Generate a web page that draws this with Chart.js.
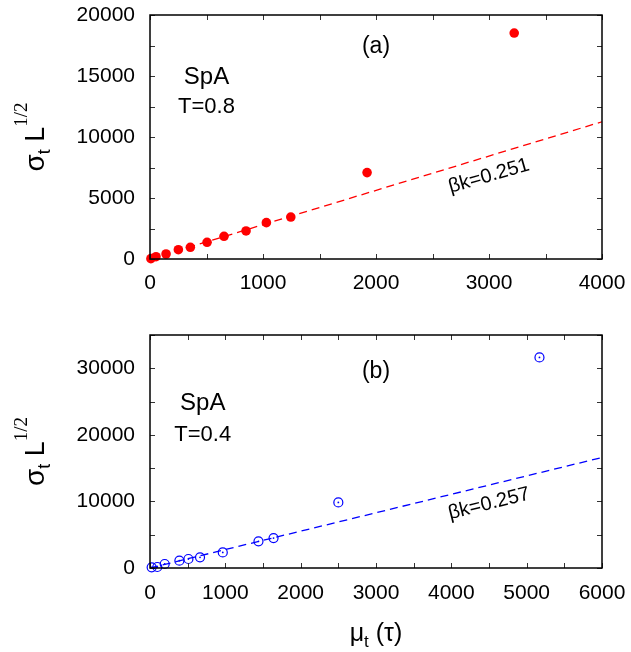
<!DOCTYPE html>
<html>
<head>
<meta charset="utf-8">
<script src="https://cdn.jsdelivr.net/npm/chart.js@4"></script>
<style>
html, body { margin: 0; padding: 0; background: #fff; }
#wrap { position: relative; width: 631px; height: 652px; }
canvas { position: absolute; left: 0; }
</style>
</head>
<body>
<div id="wrap">
<canvas id="topChart" width="631" height="310" style="top:0;width:631px;height:310px"></canvas>
<canvas id="botChart" width="631" height="342" style="top:310px;width:631px;height:342px"></canvas>
</div>
<script>
// panel (a): SpA, T=0.8
const muA = [8, 53, 142, 251, 357, 505, 655, 850, 1030, 1246, 1921, 3223];
const sigA = [30, 190, 410, 760, 960, 1370, 1860, 2300, 2980, 3440, 7080, 18520];
const fitMuA = [0, 4000];
const fitSigA = [0, 11250];

// panel (b): SpA, T=0.4
const muB = [22, 97, 195, 390, 510, 664, 966, 1440, 1640, 2500, 5170];
const sigB = [100, 150, 600, 1100, 1350, 1600, 2340, 4000, 4500, 9850, 31630];
const fitMuB = [0, 6000];
const fitSigB = [0, 16600];

const FONT = '"Liberation Sans", Arial, sans-serif';

function pts(xs, ys) {
    return xs.map((x, i) => ({ x: x, y: ys[i] }));
}

// draws the box, inward ticks, notes and axis titles
const decor = {
    id: 'decor',
    afterDatasetsDraw(chart, args, opts) {
        const ctx = chart.ctx;
        const a = chart.chartArea;
        const x = chart.scales.x, y = chart.scales.y;
        ctx.save();
        ctx.strokeStyle = '#333';
        ctx.lineWidth = 1;
        ctx.beginPath();
        for (let v = x.min; v <= x.max + 1e-6; v += opts.xStep) {
            const px = Math.round(x.getPixelForValue(v)) + 0.5;
            ctx.moveTo(px, a.bottom); ctx.lineTo(px, a.bottom - 5);
            ctx.moveTo(px, a.top); ctx.lineTo(px, a.top + 5);
        }
        for (let v = y.min; v <= y.max + 1e-6; v += opts.yStep) {
            const py = Math.round(y.getPixelForValue(v)) + 0.5;
            ctx.moveTo(a.left, py); ctx.lineTo(a.left + 5, py);
            ctx.moveTo(a.right, py); ctx.lineTo(a.right - 5, py);
        }
        ctx.stroke();
        ctx.strokeStyle = '#000';
        ctx.lineWidth = 1.5;
        ctx.strokeRect(a.left, a.top, a.right - a.left, a.bottom - a.top);

        ctx.fillStyle = '#000';
        ctx.textAlign = 'center';
        ctx.textBaseline = 'middle';
        opts.notes.forEach(n => {
            ctx.save();
            ctx.translate(x.getPixelForValue(n.x), y.getPixelForValue(n.y));
            ctx.rotate((n.rot || 0) * Math.PI / 180);
            ctx.font = (n.size || 22) + 'px ' + FONT;
            ctx.fillText(n.text, 0, 0);
            ctx.restore();
        });

        // y axis title: sigma_t L^{1/2}
        drawPieces(ctx, [
            { t: 'σ', f: '28px ' + FONT, dy: 0 },
            { t: 't', f: '18px ' + FONT, dy: 6 },
            { t: ' L', f: '27px ' + FONT, dy: 0 },
            { t: '1/2', f: '19px "Liberation Serif", serif', dy: -17 }
        ], 44, (a.top + a.bottom) / 2, -90);

        if (opts.xTitle) {
            drawPieces(ctx, [
                { t: 'μ', f: '25px ' + FONT, dy: 0 },
                { t: 't', f: '17px ' + FONT, dy: 6 },
                { t: ' (τ)', f: '25px ' + FONT, dy: 0 }
            ], (a.left + a.right) / 2, opts.xTitleY, 0);
        }
        ctx.restore();
    }
};

function drawPieces(ctx, pieces, cx, cy, rot) {
    ctx.save();
    ctx.translate(cx, cy);
    ctx.rotate(rot * Math.PI / 180);
    ctx.textAlign = 'left';
    ctx.textBaseline = 'alphabetic';
    let total = 0;
    pieces.forEach(p => { ctx.font = p.f; p.w = ctx.measureText(p.t).width; total += p.w; });
    let pos = -total / 2;
    pieces.forEach(p => {
        ctx.font = p.f;
        ctx.fillText(p.t, pos, p.dy);
        pos += p.w;
    });
    ctx.restore();
}

function noPad(s) {
    s.paddingTop = 0; s.paddingBottom = 0; s.paddingLeft = 0; s.paddingRight = 0;
}

function makeChart(id, cfg) {
    return new Chart(document.getElementById(id), {
        type: 'scatter',
        data: { datasets: cfg.datasets },
        options: {
            responsive: false,
            animation: false,
            layout: { padding: { top: cfg.padTop, right: 29, left: 0, bottom: 0 } },
            plugins: {
                legend: { display: false },
                tooltip: { enabled: false },
                decor: cfg.decor
            },
            scales: {
                x: {
                    type: 'linear', min: 0, max: cfg.xMax,
                    grid: { display: false, drawTicks: false },
                    border: { display: false },
                    ticks: { stepSize: 1000, color: '#000', padding: cfg.xPad, maxRotation: 0,
                             font: { size: 21, family: FONT },
                             callback: v => String(v) },
                    afterFit: s => { s.height = cfg.xHeight; noPad(s); }
                },
                y: {
                    type: 'linear', min: 0, max: cfg.yMax,
                    grid: { display: false, drawTicks: false },
                    border: { display: false },
                    ticks: { stepSize: 5000, color: '#000', padding: 15, autoSkip: false,
                             font: { size: 21, family: FONT },
                             callback: v => (v % cfg.yLabelEvery === 0 ? String(v) : '') },
                    afterFit: s => { s.width = 150; noPad(s); }
                }
            }
        },
        plugins: [decor]
    });
}

makeChart('topChart', {
    xMax: 4000, yMax: 20000, yLabelEvery: 5000, padTop: 15, xHeight: 51, xPad: 12,
    datasets: [
        { data: pts(fitMuA, fitSigA), showLine: true, pointRadius: 0, borderColor: '#ff0000',
          borderWidth: 1.3, borderDash: [8, 5], clip: false },
        { data: pts(muA, sigA), pointRadius: 4.8, backgroundColor: '#ff0000', borderColor: '#ff0000',
          borderWidth: 0, clip: false }
    ],
    decor: {
        xStep: 500, yStep: 2500, xTitle: false,
        notes: [
            { text: '(a)', x: 2000, y: 17400, size: 23 },
            { text: 'SpA', x: 500, y: 14900, size: 24 },
            { text: 'T=0.8', x: 500, y: 12500, size: 22 },
            { text: 'βk=0.251', x: 3000, y: 6800, rot: -16, size: 20 }
        ]
    }
});

makeChart('botChart', {
    xMax: 6000, yMax: 35000, yLabelEvery: 10000, padTop: 25, xHeight: 84, xPad: 13,
    datasets: [
        { data: pts(fitMuB, fitSigB), showLine: true, pointRadius: 0, borderColor: '#0000ff',
          borderWidth: 1.3, borderDash: [8, 5], clip: false },
        { data: pts(muB, sigB), pointRadius: 4.5, backgroundColor: 'rgba(0,0,0,0)', borderColor: '#0000ff',
          borderWidth: 1.2, clip: false },
        { data: pts(muB, sigB), pointRadius: 0.9, backgroundColor: '#0000ff', borderColor: '#0000ff',
          borderWidth: 0, clip: false }
    ],
    decor: {
        xStep: 500, yStep: 5000, xTitle: true, xTitleY: 331,
        notes: [
            { text: '(b)', x: 3000, y: 29500, size: 23 },
            { text: 'SpA', x: 700, y: 24700, size: 24 },
            { text: 'T=0.4', x: 700, y: 20000, size: 22 },
            { text: 'βk=0.257', x: 4500, y: 9640, rot: -14, size: 20 }
        ]
    }
});
</script>
</body>
</html>
